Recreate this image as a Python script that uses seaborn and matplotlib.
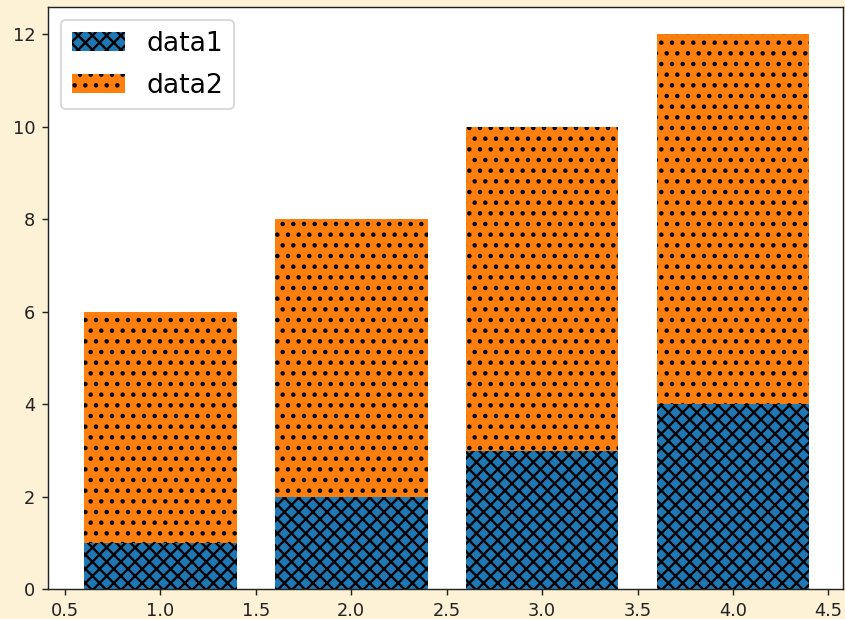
import matplotlib
matplotlib.use("Agg")
import matplotlib.pyplot as plt
import seaborn as sns
import pandas as pd
import numpy as np

categories = [1, 2, 3, 4]
data1 = [1, 2, 3, 4]
data2 = [5, 6, 7, 8]
labels = ["data1", "data2"]

plt.rcParams["hatch.linewidth"] = 1.3

DPI = 128
fig = plt.figure(figsize=(845 / DPI, 619 / DPI), dpi=DPI, facecolor="#fdf1d6")
ax = fig.add_axes([47.7 / 845, 1 - 589.3 / 619, (842.7 - 47.7) / 845, (589.3 - 6.7) / 619])
ax.set_facecolor("white")

df = pd.DataFrame({"x": categories, "d1": data1, "d2": data2})
df["total"] = df["d1"] + df["d2"]

sns.barplot(data=df, x="x", y="total", native_scale=True, color="#ff7f0e",
            saturation=1, ax=ax, errorbar=None, width=0.8)
n_orange = len(ax.patches)
sns.barplot(data=df, x="x", y="d1", native_scale=True, color="#1f77b4",
            saturation=1, ax=ax, errorbar=None, width=0.8)

for i, p in enumerate(ax.patches):
    p.set_edgecolor("black")
    p.set_linewidth(0)
    p.set_hatch(".." if i < n_orange else "xxx")

ax.set_xlim(0.41, 4.575)
ax.set_ylim(0, 12.6)
ax.set_xticks([0.5, 1.0, 1.5, 2.0, 2.5, 3.0, 3.5, 4.0, 4.5])
ax.set_xticklabels(["0.5", "1.0", "1.5", "2.0", "2.5", "3.0", "3.5", "4.0", "4.5"])
ax.set_yticks([0, 2, 4, 6, 8, 10, 12])
ax.set_xlabel("")
ax.set_ylabel("")
ax.tick_params(labelsize=10, colors="#222222")
for s in ax.spines.values():
    s.set_visible(True)
    s.set_color("#222222")

blue_handle = ax.patches[n_orange]
orange_handle = ax.patches[0]
ax.legend([blue_handle, orange_handle], labels, loc="upper left", fontsize=15,
          labelspacing=0.6)

fig.savefig("out.png", dpi=DPI, facecolor=fig.get_facecolor())
